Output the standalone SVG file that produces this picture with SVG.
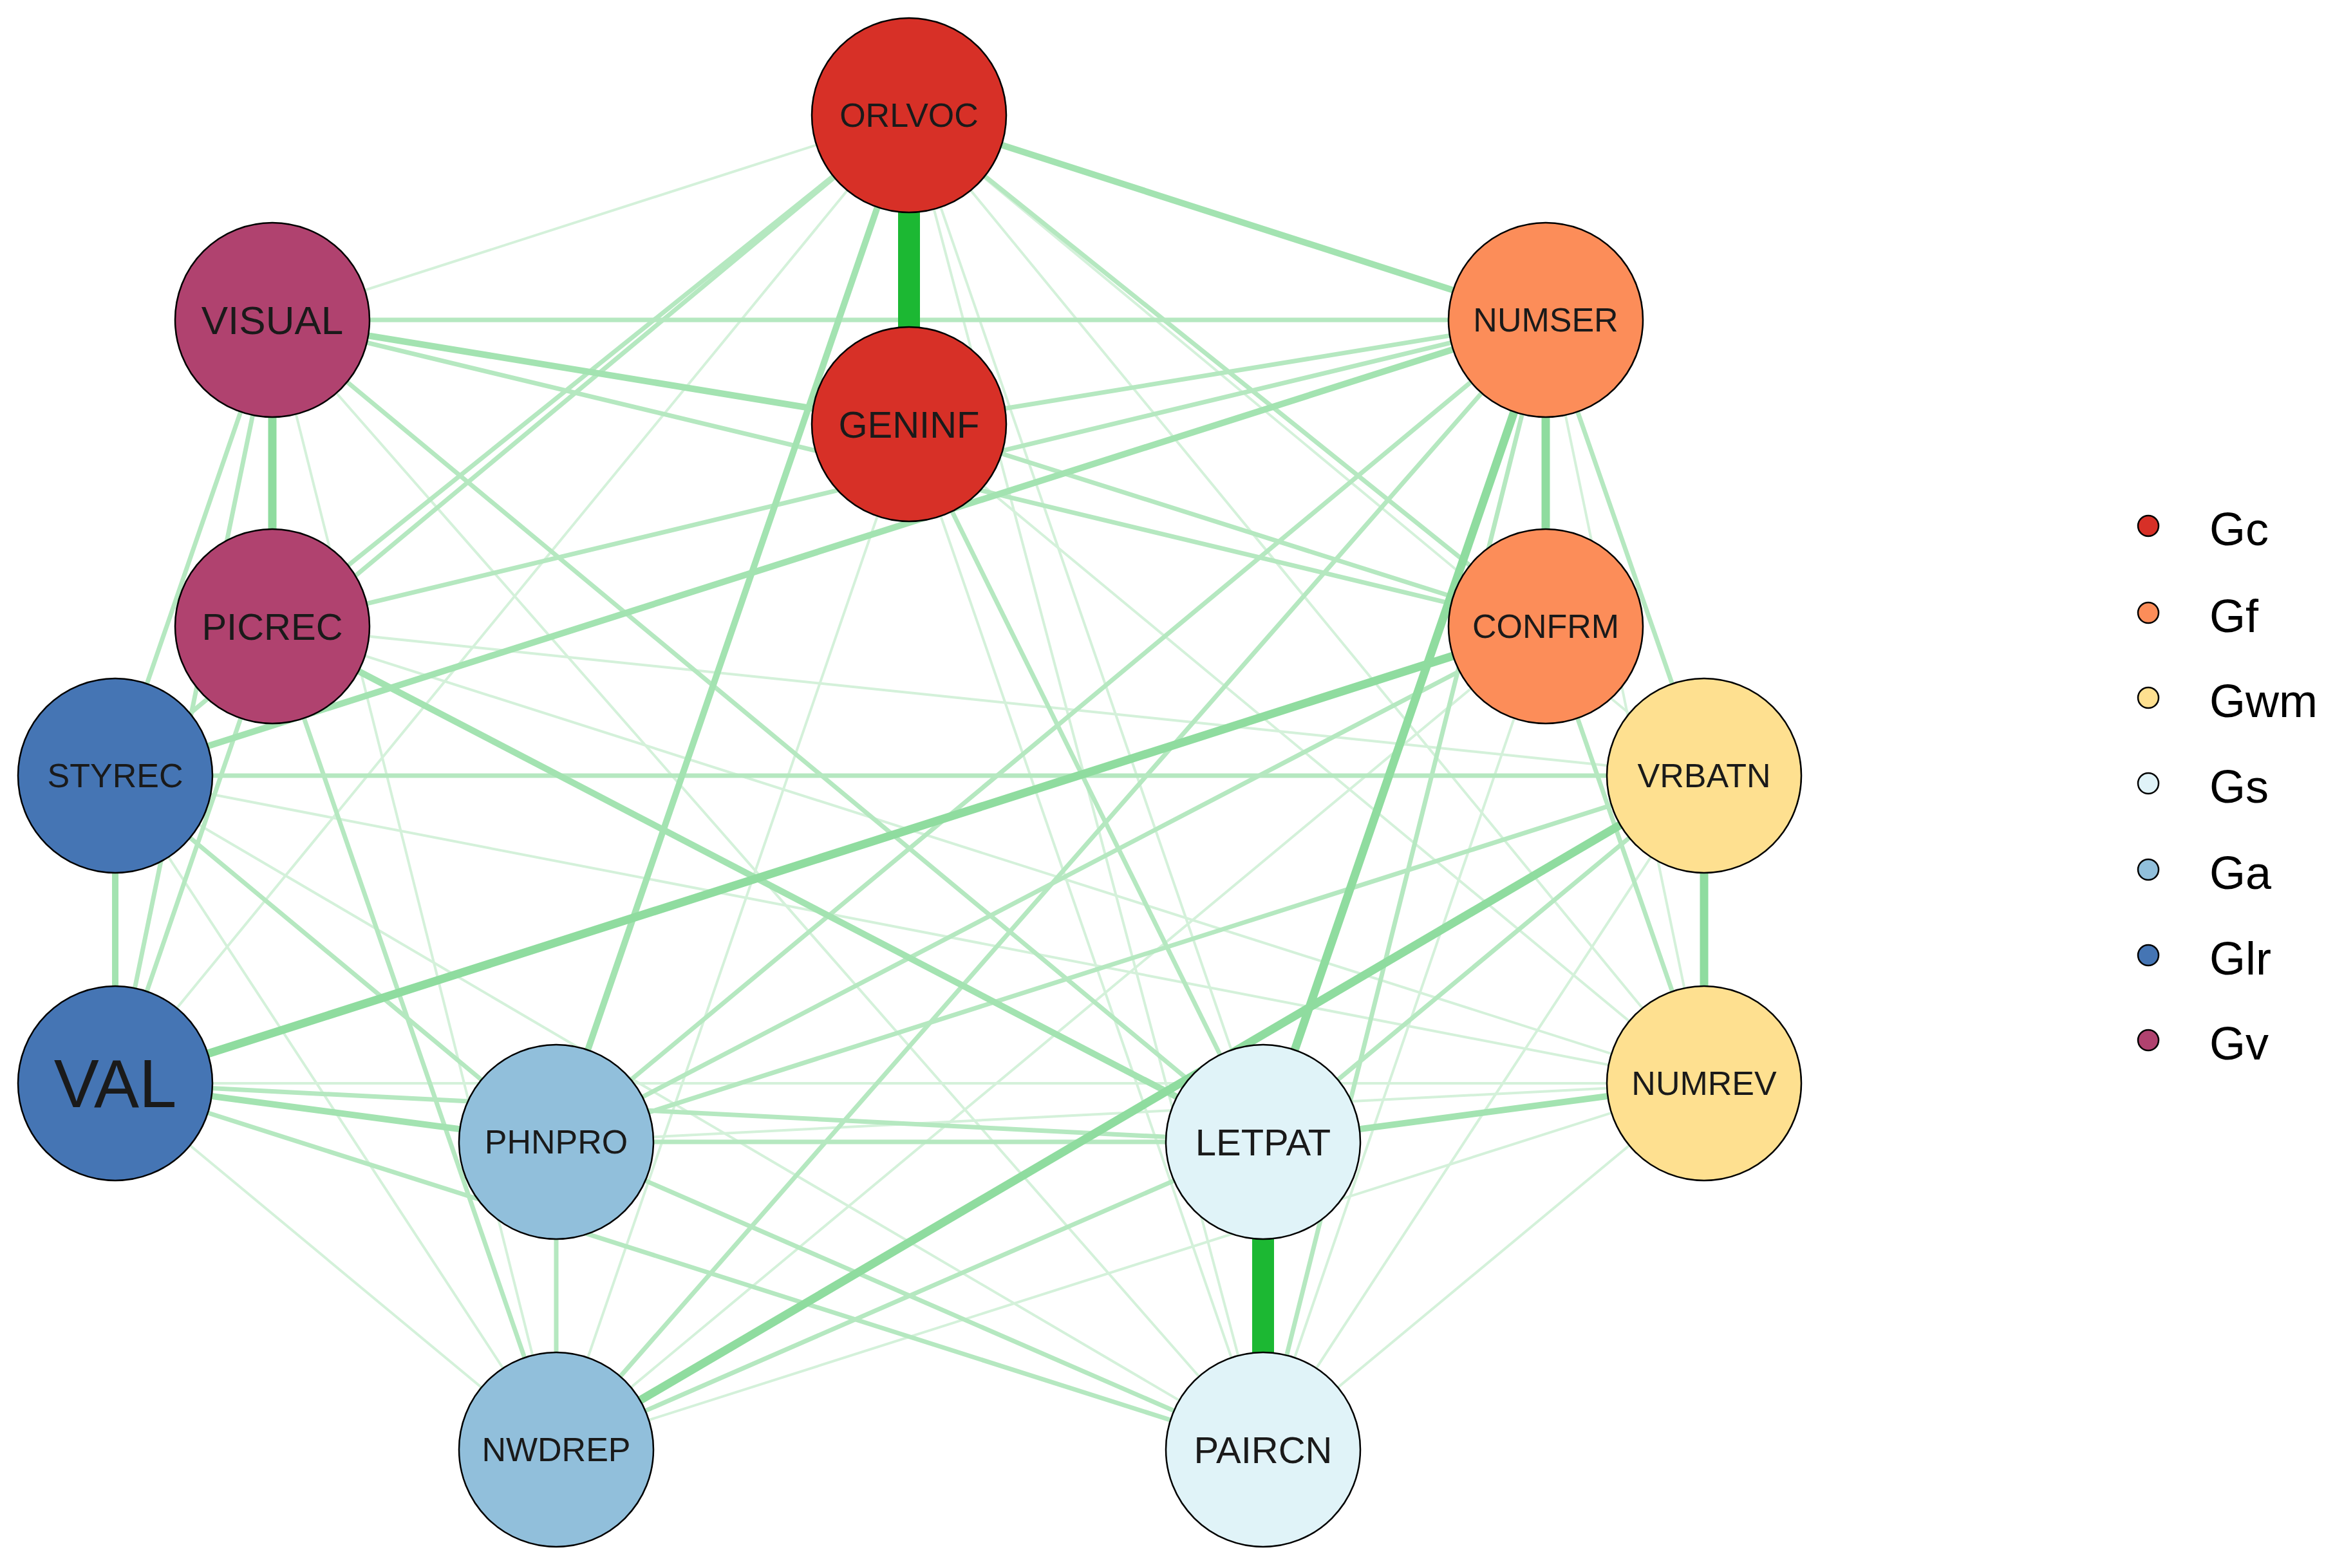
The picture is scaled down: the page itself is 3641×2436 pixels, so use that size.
<svg xmlns="http://www.w3.org/2000/svg" width="3641" height="2436" viewBox="0 0 3641 2436">
<style>
.n{stroke:#000;stroke-width:2.5}
.t{font-family:"Liberation Sans",Arial,sans-serif;font-size:52px;text-anchor:middle;dominant-baseline:central;fill:#1a1a1a}
.l{font-family:"Liberation Sans",Arial,sans-serif;font-size:72px;dominant-baseline:central;fill:#000}
.f{stroke:#d4f1da;stroke-width:4;fill:none}
.a{stroke:#b5e8c0;stroke-width:7;fill:none}
.b{stroke:#a3e3b1;stroke-width:10;fill:none}
.c{stroke:#8fdc9f;stroke-width:13;fill:none}
.s{stroke:#1cb833;stroke-width:34;fill:none}
</style>
<rect width="3641" height="2436" fill="#fff"/>
<g id="connectors">
<line class="f" x1="423" y1="497" x2="1412" y2="179"/>
<line class="f" x1="179" y1="1683" x2="864" y2="2252"/>
<line class="f" x1="1412" y1="179" x2="2647" y2="1205"/>
<line class="f" x1="1412" y1="179" x2="2647" y2="1683"/>
<line class="f" x1="1412" y1="179" x2="1962" y2="1774"/>
<line class="f" x1="1412" y1="179" x2="1962" y2="2252"/>
<line class="f" x1="1412" y1="659" x2="1962" y2="2252"/>
<line class="f" x1="1412" y1="659" x2="2647" y2="1683"/>
<line class="f" x1="423" y1="973" x2="2647" y2="1683"/>
<line class="f" x1="179" y1="1205" x2="2647" y2="1683"/>
<line class="f" x1="179" y1="1683" x2="2647" y2="1683"/>
<line class="f" x1="864" y1="2252" x2="2647" y2="1683"/>
<line class="f" x1="864" y1="1774" x2="2647" y2="1683"/>
<line class="f" x1="423" y1="497" x2="1962" y2="2252"/>
<line class="f" x1="423" y1="497" x2="864" y2="2252"/>
<line class="f" x1="179" y1="1205" x2="864" y2="2252"/>
<line class="f" x1="179" y1="1205" x2="1962" y2="2252"/>
<line class="f" x1="2401" y1="497" x2="2647" y2="1683"/>
<line class="f" x1="2401" y1="973" x2="1962" y2="2252"/>
<line class="f" x1="2401" y1="973" x2="864" y2="2252"/>
<line class="f" x1="2647" y1="1205" x2="1962" y2="2252"/>
<line class="f" x1="2647" y1="1683" x2="1962" y2="2252"/>
<line class="f" x1="1412" y1="659" x2="864" y2="2252"/>
<line class="f" x1="1412" y1="179" x2="179" y2="1683"/>
<line class="f" x1="423" y1="973" x2="2647" y2="1205"/>
<line class="a" x1="423" y1="497" x2="2401" y2="973"/>
<line class="a" x1="423" y1="497" x2="179" y2="1683"/>
<line class="a" x1="423" y1="497" x2="179" y2="1205"/>
<line class="a" x1="423" y1="497" x2="1962" y2="1774"/>
<line class="a" x1="423" y1="973" x2="2401" y2="497"/>
<line class="a" x1="423" y1="973" x2="864" y2="2252"/>
<line class="a" x1="423" y1="973" x2="1412" y2="179"/>
<line class="a" x1="179" y1="1205" x2="2647" y2="1205"/>
<line class="a" x1="179" y1="1683" x2="1962" y2="2252"/>
<line class="a" x1="179" y1="1683" x2="423" y2="973"/>
<line class="a" x1="1412" y1="179" x2="2401" y2="973"/>
<line class="a" x1="1412" y1="659" x2="2401" y2="973"/>
<line class="a" x1="1412" y1="179" x2="179" y2="1205"/>
<line class="a" x1="2401" y1="497" x2="864" y2="1774"/>
<line class="a" x1="2401" y1="497" x2="864" y2="2252"/>
<line class="a" x1="2401" y1="497" x2="1962" y2="2252"/>
<line class="a" x1="2401" y1="497" x2="2647" y2="1205"/>
<line class="a" x1="2401" y1="497" x2="1412" y2="659"/>
<line class="a" x1="2401" y1="973" x2="864" y2="1774"/>
<line class="a" x1="2401" y1="973" x2="2647" y2="1683"/>
<line class="a" x1="2647" y1="1205" x2="864" y2="1774"/>
<line class="a" x1="864" y1="1774" x2="1962" y2="1774"/>
<line class="a" x1="864" y1="1774" x2="864" y2="2252"/>
<line class="a" x1="864" y1="1774" x2="1962" y2="2252"/>
<line class="a" x1="1962" y1="1774" x2="864" y2="2252"/>
<line class="a" x1="1962" y1="1774" x2="2647" y2="1205"/>
<line class="a" x1="179" y1="1683" x2="1962" y2="1774"/>
<line class="a" x1="179" y1="1205" x2="864" y2="1774"/>
<line class="a" x1="1412" y1="659" x2="1962" y2="1774"/>
<line class="a" x1="423" y1="497" x2="2401" y2="497"/>
<line class="b" x1="1412" y1="179" x2="2401" y2="497"/>
<line class="b" x1="423" y1="497" x2="1412" y2="659"/>
<line class="b" x1="1412" y1="179" x2="864" y2="1774"/>
<line class="b" x1="423" y1="973" x2="1962" y2="1774"/>
<line class="b" x1="179" y1="1683" x2="864" y2="1774"/>
<line class="b" x1="1962" y1="1774" x2="2647" y2="1683"/>
<line class="b" x1="2401" y1="497" x2="179" y2="1205"/>
<line class="c" x1="2401" y1="497" x2="1962" y2="1774"/>
<line class="c" x1="2401" y1="973" x2="179" y2="1683"/>
<line class="c" x1="2647" y1="1205" x2="864" y2="2252"/>
<line class="c" x1="423" y1="497" x2="423" y2="973"/>
<line class="c" x1="2401" y1="497" x2="2401" y2="973"/>
<line class="c" x1="2647" y1="1205" x2="2647" y2="1683"/>
<line class="b" x1="179" y1="1205" x2="179" y2="1683"/>
<line class="s" x1="1412" y1="179" x2="1412" y2="659"/>
<line class="s" x1="1962" y1="1774" x2="1962" y2="2252"/>
</g>
<g id="ORLVOC"><circle class="n" cx="1412" cy="179" r="151" fill="#d73027"/><text class="t" x="1412" y="179">ORLVOC</text></g>
<g id="VISUAL"><circle class="n" cx="423" cy="497" r="151" fill="#b0426f"/><text class="t" x="423" y="497" style="font-size:62px">VISUAL</text></g>
<g id="NUMSER"><circle class="n" cx="2401" cy="497" r="151" fill="#fc8d59"/><text class="t" x="2401" y="497">NUMSER</text></g>
<g id="GENINF"><circle class="n" cx="1412" cy="659" r="151" fill="#d73027"/><text class="t" x="1412" y="659" style="font-size:58px">GENINF</text></g>
<g id="PICREC"><circle class="n" cx="423" cy="973" r="151" fill="#b0426f"/><text class="t" x="423" y="973" style="font-size:58px">PICREC</text></g>
<g id="CONFRM"><circle class="n" cx="2401" cy="973" r="151" fill="#fc8d59"/><text class="t" x="2401" y="973">CONFRM</text></g>
<g id="STYREC"><circle class="n" cx="179" cy="1205" r="151" fill="#4575b4"/><text class="t" x="179" y="1205">STYREC</text></g>
<g id="VRBATN"><circle class="n" cx="2647" cy="1205" r="151" fill="#fee090"/><text class="t" x="2647" y="1205">VRBATN</text></g>
<g id="VAL"><circle class="n" cx="179" cy="1683" r="151" fill="#4575b4"/><text class="t" x="179" y="1683" style="font-size:105px">VAL</text></g>
<g id="NUMREV"><circle class="n" cx="2647" cy="1683" r="151" fill="#fee090"/><text class="t" x="2647" y="1683">NUMREV</text></g>
<g id="PHNPRO"><circle class="n" cx="864" cy="1774" r="151" fill="#91bfdb"/><text class="t" x="864" y="1774">PHNPRO</text></g>
<g id="LETPAT"><circle class="n" cx="1962" cy="1774" r="151" fill="#e0f3f8"/><text class="t" x="1962" y="1774" style="font-size:58px">LETPAT</text></g>
<g id="NWDREP"><circle class="n" cx="864" cy="2252" r="151" fill="#91bfdb"/><text class="t" x="864" y="2252">NWDREP</text></g>
<g id="PAIRCN"><circle class="n" cx="1962" cy="2252" r="151" fill="#e0f3f8"/><text class="t" x="1962" y="2252" style="font-size:58px">PAIRCN</text></g>
<g id="legend">
<circle class="n" cx="3337" cy="817" r="16" fill="#d73027"/><text class="l" x="3432" y="822">Gc</text>
<circle class="n" cx="3337" cy="952" r="16" fill="#fc8d59"/><text class="l" x="3432" y="957">Gf</text>
<circle class="n" cx="3337" cy="1084" r="16" fill="#fee090"/><text class="l" x="3432" y="1089">Gwm</text>
<circle class="n" cx="3337" cy="1217" r="16" fill="#e0f3f8"/><text class="l" x="3432" y="1222">Gs</text>
<circle class="n" cx="3337" cy="1351" r="16" fill="#91bfdb"/><text class="l" x="3432" y="1356">Ga</text>
<circle class="n" cx="3337" cy="1484" r="16" fill="#4575b4"/><text class="l" x="3432" y="1489">Glr</text>
<circle class="n" cx="3337" cy="1616" r="16" fill="#b0426f"/><text class="l" x="3432" y="1621">Gv</text>
</g>
</svg>
